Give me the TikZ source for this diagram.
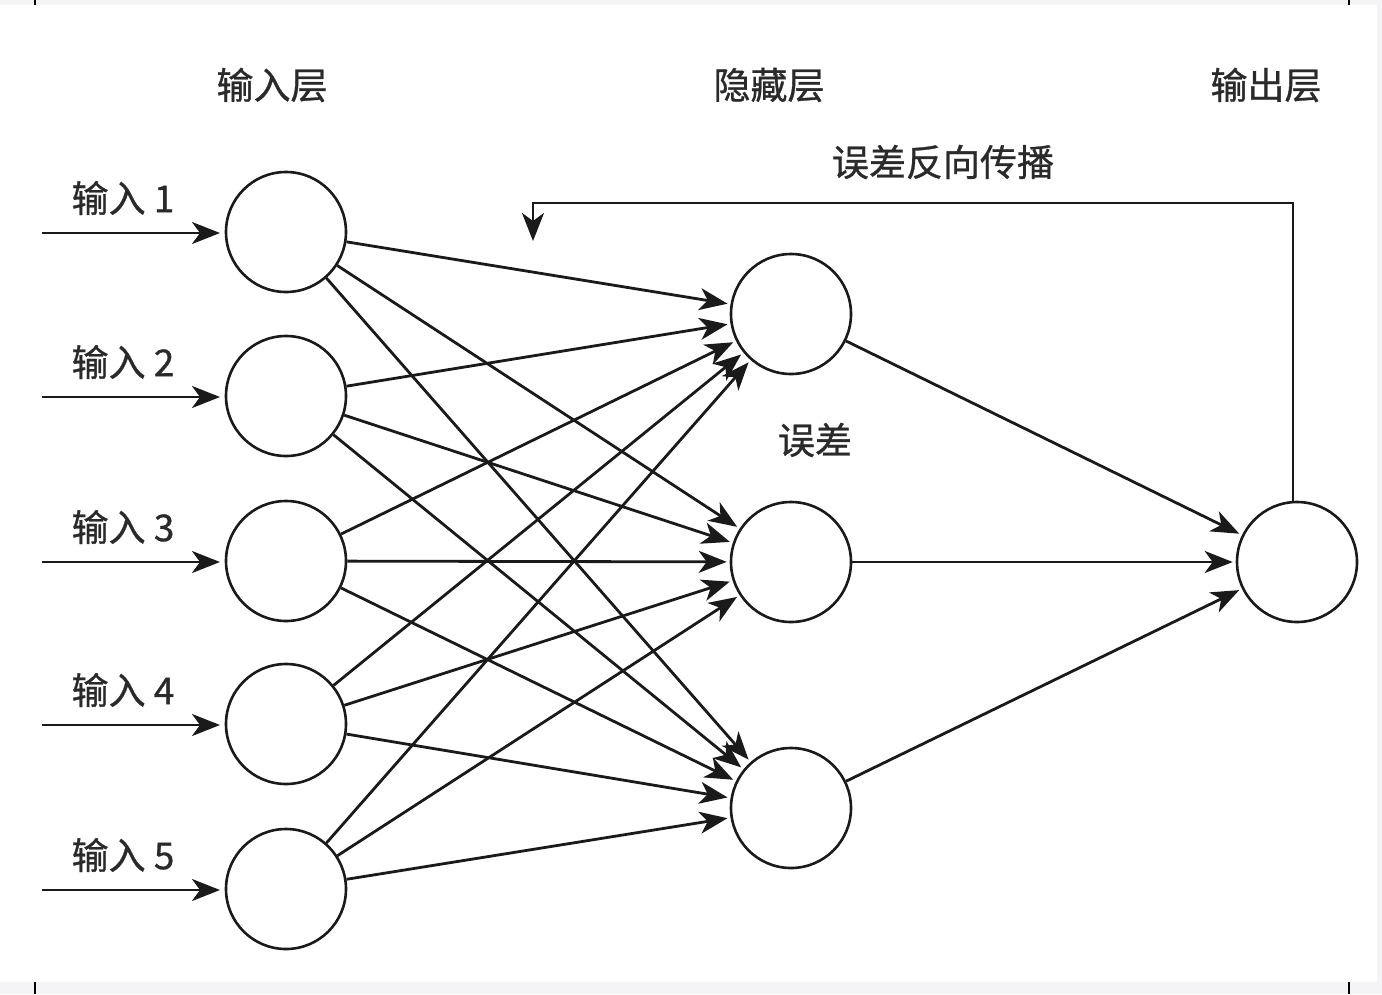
\documentclass[tikz,border=0pt]{standalone}
\usepackage{fontspec}
\setmainfont{Noto Sans CJK SC}[FakeBold=0.8]
\usetikzlibrary{arrows.meta}
\definecolor{txt}{HTML}{2A2A2A}
\definecolor{ln}{HTML}{1A1A1A}
\definecolor{strip}{HTML}{F4F4F6}
\tikzset{
  neuron/.style={circle, draw=ln, line width=2.6pt, minimum size=120pt, inner sep=0pt, fill=white},
  conn/.style={draw=ln, line width=2.8pt, -{Stealth[length=28pt,width=22pt,inset=8pt]}, shorten >=3pt},
  lbl/.style={text=txt, font=\fontsize{37}{40}\selectfont, inner sep=0pt, anchor=center},
}
\begin{document}
\begin{tikzpicture}[x=1pt,y=-1pt]
\useasboundingbox (0,0) rectangle (1382,994);
\fill[white] (0,0) rectangle (1382,994);
% scan strips and crop ticks
\fill[strip] (0,0) rectangle (1382,5);
\fill[strip] (0,982) rectangle (1382,994);
\fill[strip] (1377,5) rectangle (1382,982);
\draw[black, line width=1.2pt] (35,0) -- (35,5);
\draw[black, line width=1.2pt] (1349,0) -- (1349,5);
\draw[black, line width=1.2pt] (35,982) -- (35,994);
\draw[black, line width=1.2pt] (1349,982) -- (1349,994);

% headers
\node[lbl] (hin) at (272,85) {输入层};
\node[lbl] (hhid) at (769,85) {隐藏层};
\node[lbl] (hout) at (1266,85) {输出层};
\node[lbl] (bp) at (943,162) {误差反向传播};
\node[lbl] (err) at (815,440) {误差};

% neurons
\node[neuron] (i1) at (286,232) {};
\node[neuron] (i2) at (286,396) {};
\node[neuron] (i3) at (286,561) {};
\node[neuron] (i4) at (286,724) {};
\node[neuron] (i5) at (286,889) {};
\node[neuron] (h1) at (791,314) {};
\node[neuron] (h2) at (791,562) {};
\node[neuron] (h3) at (791,808) {};
\node[neuron] (o) at (1297,562) {};

% input arrows and labels
\foreach \k/\y in {1/233,2/397,3/562,4/725,5/890}{
  \coordinate (s\k) at (42,\y);
  \coordinate (e\k) at (226,\y);
  \draw[conn, shorten >=6pt] (s\k) -- (e\k);
  \node[lbl] (l\k) at (123,\y-35) {输入 \k};
}

% input to hidden
\foreach \i in {1,...,5}{
  \foreach \h in {1,2,3}{
    \draw[conn] (i\i) -- (h\h);
  }
}
% hidden to output
\foreach \h in {1,2,3}{
  \draw[conn] (h\h) -- (o);
}

% feedback
\coordinate (fb1) at (1293,203);
\coordinate (fb2) at (533,203);
\coordinate (fb3) at (533,241);
\draw[conn, shorten >=0pt] (o.north -| fb1) -- (fb1) -- (fb2) -- (fb3);
\end{tikzpicture}
\end{document}
